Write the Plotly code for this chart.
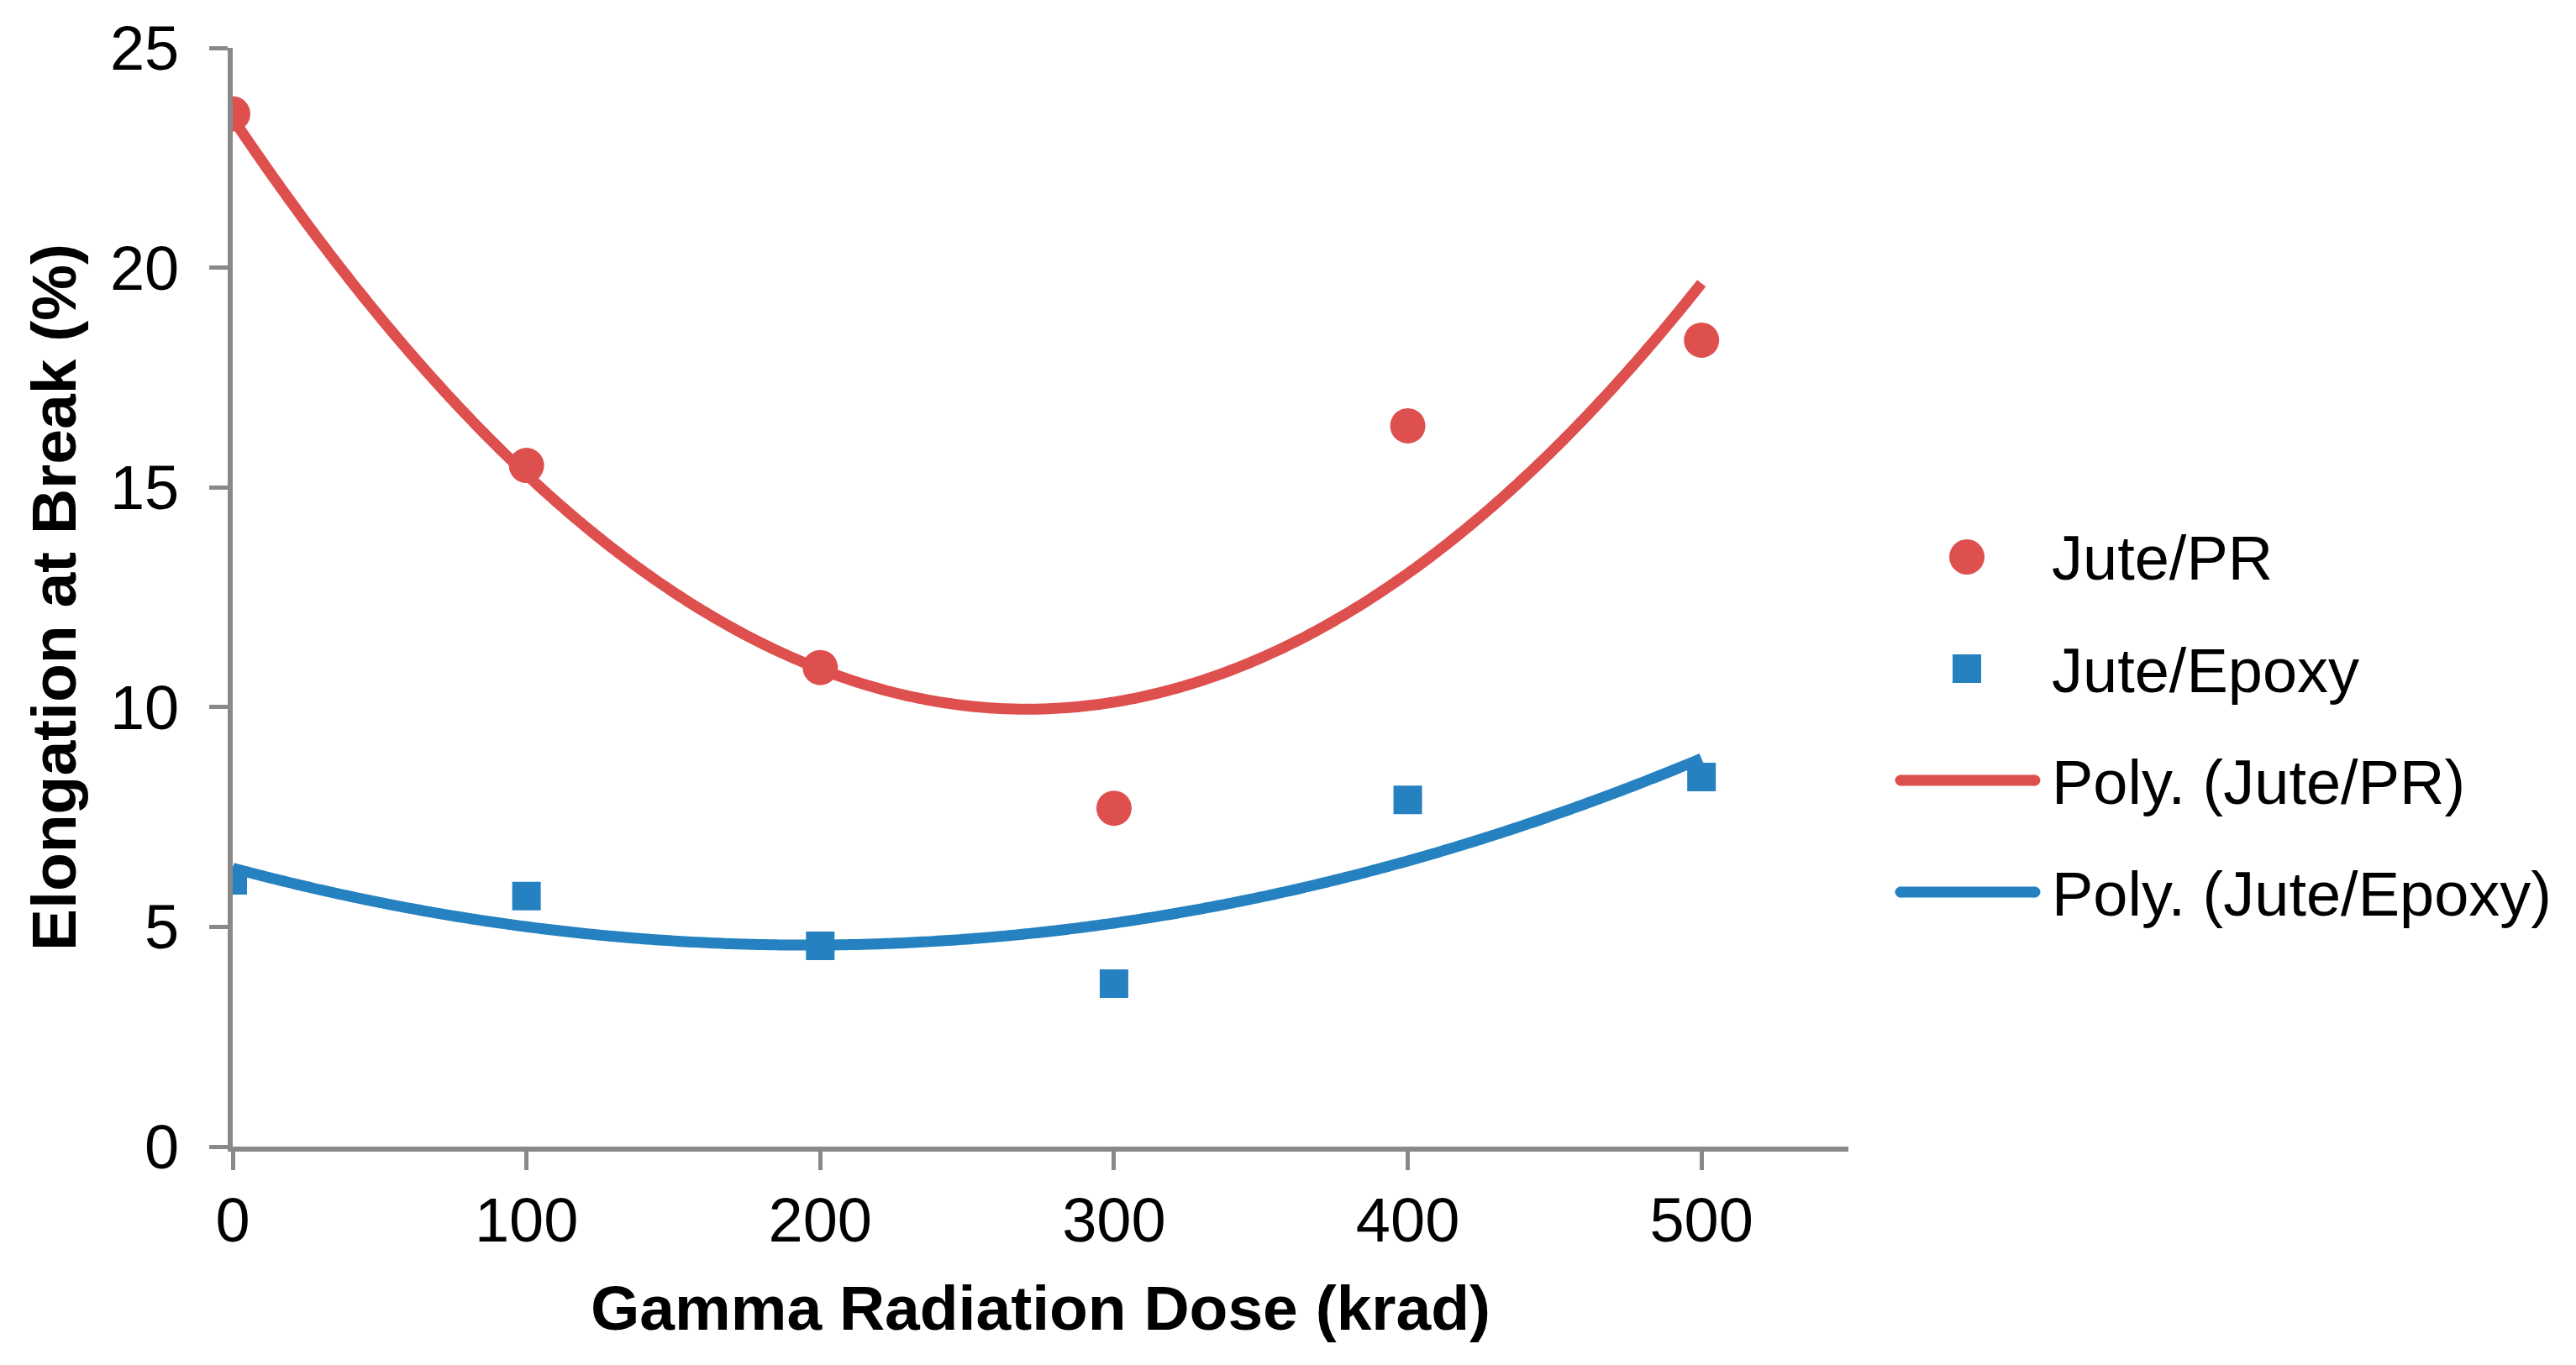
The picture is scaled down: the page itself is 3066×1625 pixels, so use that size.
import numpy as np
import plotly.graph_objects as go

dose = [0, 100, 200, 300, 400, 500]
jute_pr = [23.5, 15.5, 10.9, 7.7, 16.4, 18.35]
jute_epoxy = [6.06, 5.7, 4.57, 3.71, 7.89, 8.41]
x_ticks = [0, 100, 200, 300, 400, 500]
y_ticks = [0, 5, 10, 15, 20, 25]
legend_labels = ["Jute/PR", "Jute/Epoxy", "Poly. (Jute/PR)", "Poly. (Jute/Epoxy)"]

RED = "#DE504E"
BLUE = "#2581C0"
GREY = "#898989"
FONT = "Liberation Sans, Arial, sans-serif"

W, H = 3066, 1625
OFF = 8  # page body margin in the screenshot
# plot area in screenshot pixels
X0S, X1S, Y0S, Y1S = 277, 2200, 57, 1365
L, R = X0S - OFF, W - (X1S - OFF)
T, B = Y0S - OFF, H - (Y1S - OFF)
PW, PH = X1S - X0S, Y1S - Y0S


def px(xs_):
    return (xs_ - X0S) / PW


def py(ys_):
    return (Y1S - ys_) / PH


# 2nd-order polynomial trendlines (as in the source chart)
xs = np.linspace(min(dose), max(dose), 401)
fit_pr = np.polyval(np.polyfit(dose, jute_pr, 2), xs)
fit_ep = np.polyval(np.polyfit(dose, jute_epoxy, 2), xs)

fig = go.Figure()
fig.add_trace(go.Scatter(x=xs, y=fit_pr, mode="lines", name=legend_labels[2],
                         line=dict(color=RED, width=13, simplify=False)))
fig.add_trace(go.Scatter(x=xs, y=fit_ep, mode="lines", name=legend_labels[3],
                         line=dict(color=BLUE, width=13, simplify=False)))
fig.add_trace(go.Scatter(x=dose, y=jute_pr, mode="markers", name=legend_labels[0],
                         marker=dict(color=RED, size=42, symbol="circle")))
fig.add_trace(go.Scatter(x=dose, y=jute_epoxy, mode="markers", name=legend_labels[1],
                         marker=dict(color=BLUE, size=34, symbol="square")))

# Legend (drawn manually so symbols keep the reference's sizes)
text_x = 2440
rows_y = [663, 796, 929, 1062]
sym_x = 2341
line_x0, line_x1, lw = 2262, 2422, 13
shapes = [
    dict(type="circle", xref="paper", yref="paper",
         x0=px(sym_x - 21), x1=px(sym_x + 21), y0=py(rows_y[0] + 21), y1=py(rows_y[0] - 21),
         fillcolor=RED, line=dict(width=0)),
    dict(type="rect", xref="paper", yref="paper",
         x0=px(sym_x - 17), x1=px(sym_x + 17), y0=py(rows_y[1] + 17), y1=py(rows_y[1] - 17),
         fillcolor=BLUE, line=dict(width=0)),
]
for yy, col in ((rows_y[2], RED), (rows_y[3], BLUE)):
    shapes.append(dict(type="line", xref="paper", yref="paper",
                       x0=px(line_x0), x1=px(line_x1), y0=py(yy), y1=py(yy),
                       line=dict(color=col, width=lw)))
    for cx in (line_x0, line_x1):
        shapes.append(dict(type="circle", xref="paper", yref="paper",
                           x0=px(cx - lw / 2), x1=px(cx + lw / 2),
                           y0=py(yy + lw / 2), y1=py(yy - lw / 2),
                           fillcolor=col, line=dict(width=0)))
annotations = [
    dict(text=lab, xref="paper", yref="paper", x=px(text_x), y=py(yy + 2),
         xanchor="left", yanchor="middle", showarrow=False,
         font=dict(size=74, family=FONT, color="black"))
    for lab, yy in zip(legend_labels, rows_y)
]

fig.update_layout(
    width=W, height=H,
    margin=dict(l=L, r=R, t=T, b=B),
    paper_bgcolor="white", plot_bgcolor="white",
    font=dict(family=FONT, color="black", size=74),
    showlegend=False,
    shapes=shapes,
    annotations=annotations,
)
fig.update_xaxes(
    range=[0, 550], tickvals=x_ticks, showgrid=False, zeroline=False,
    showline=True, linecolor=GREY, linewidth=6, automargin=False,
    ticks="outside", ticklen=22, tickwidth=5, tickcolor=GREY,
    ticklabelstandoff=-4,
    tickfont=dict(size=74, family=FONT, color="black"),
    title=dict(text="<b>Gamma Radiation Dose (krad)</b>", font=dict(size=75, family=FONT, color="black"),
               standoff=40),
)
fig.update_yaxes(
    range=[0, 25], tickvals=y_ticks, showgrid=False, zeroline=False,
    showline=True, linecolor=GREY, linewidth=6, automargin=False,
    ticks="outside", ticklen=22, tickwidth=5, tickcolor=GREY,
    ticklabelstandoff=21,
    tickfont=dict(size=74, family=FONT, color="black"),
    title=dict(text="<b>Elongation at Break (%)</b>", font=dict(size=75, family=FONT, color="black"),
               standoff=18),
)

fig.write_html("out.html")
